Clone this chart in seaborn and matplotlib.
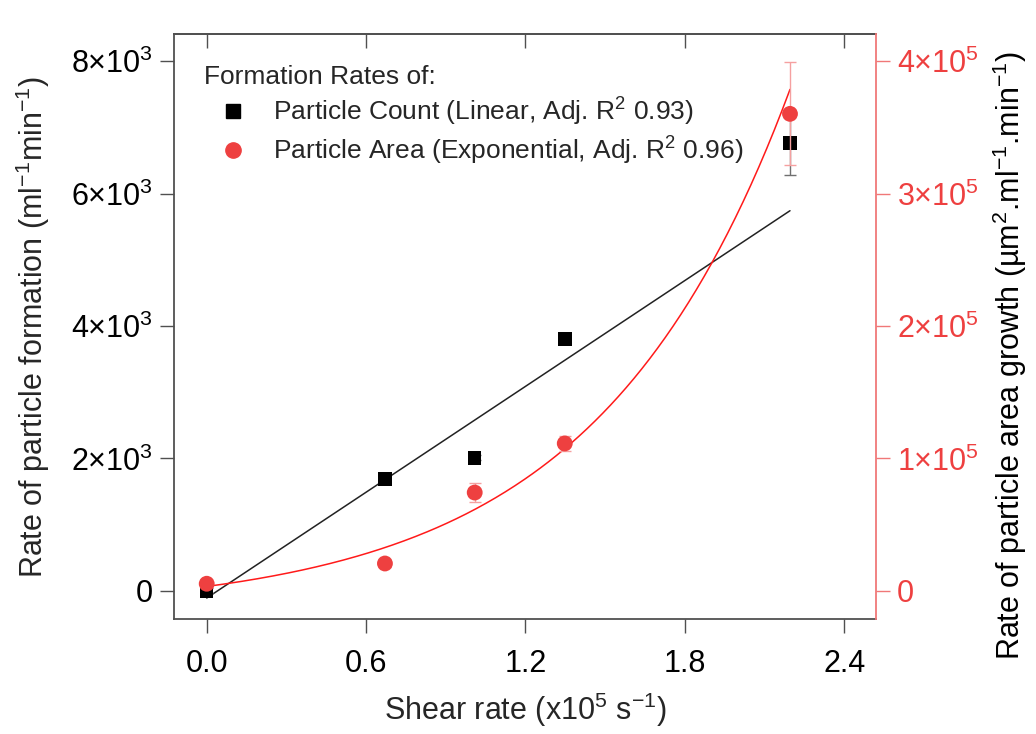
import numpy as np
import pandas as pd
import matplotlib
matplotlib.use("Agg")
import matplotlib.pyplot as plt
from matplotlib.lines import Line2D
import seaborn as sns

# ---------------- data ----------------
shear_rate = [0.0, 0.671, 1.009, 1.348, 2.196]          # x10^5 s^-1
count_rate = [0, 1687, 2009, 3807, 6767]                  # ml^-1 min^-1
count_err = [40, 40, 40, 40, 480]
area_rate = [5300, 20600, 74200, 111300, 360300]          # um^2 ml^-1 min^-1
area_err = [1500, 2500, 7200, 5900, 39000]

# fit parameters (linear and exponential) as drawn in the reference
lin_intercept, lin_slope = -110.0, 2665.0
exp_y0, exp_A, exp_k = -16250.0, 19500.0, 1.37

x_ticks = [0.0, 0.6, 1.2, 1.8, 2.4]
x_labels = ["0.0", "0.6", "1.2", "1.8", "2.4"]
left_ticks = [0, 2000, 4000, 6000, 8000]
left_labels = ["0", "2×10$^{3}$", "4×10$^{3}$", "6×10$^{3}$", "8×10$^{3}$"]
right_ticks = [0, 100000, 200000, 300000, 400000]
right_labels = ["0", "1×10$^{5}$", "2×10$^{5}$", "3×10$^{5}$", "4×10$^{5}$"]

legend_title = "Formation Rates of:"
count_label = "Particle Count (Linear, Adj. R$^{2}$ 0.93)"
area_label = "Particle Area (Exponential, Adj. R$^{2}$ 0.96)"

# ---------------- style ----------------
sns.set_style("ticks")
plt.rcParams["font.family"] = ["Liberation Sans", "DejaVu Sans"]
plt.rcParams["mathtext.fontset"] = "custom"
plt.rcParams["mathtext.rm"] = "Liberation Sans"
plt.rcParams["mathtext.it"] = "Liberation Sans:italic"
plt.rcParams["mathtext.bf"] = "Liberation Sans:bold"
plt.rcParams["mathtext.default"] = "regular"

RED = "#EE4040"
RED_LINE = "#FF1A1A"
RED_ERR = "#F5A0A0"
RED_SPINE = "#F07878"
SPINE = "#505050"

fig = plt.figure(figsize=(10.36, 7.34), dpi=100)
ax = fig.add_axes([0.168, 0.157, 0.6776, 0.796])
ax2 = ax.twinx()

df = pd.DataFrame({"shear": shear_rate, "count": count_rate, "area": area_rate})

# fits
xf = np.linspace(0, max(shear_rate), 300)
fit_df = pd.DataFrame({"x": xf,
                       "lin": lin_intercept + lin_slope * xf,
                       "exp": exp_y0 + exp_A * np.exp(exp_k * xf)})

sns.lineplot(data=fit_df, x="x", y="lin", color="#222222", lw=1.1, ax=ax, zorder=2)
ax.errorbar(shear_rate, count_rate, yerr=count_err, fmt="none", ecolor="#707070",
            elinewidth=1.0, capsize=4, zorder=2)
sns.scatterplot(data=df, x="shear", y="count", marker="s", color="black", s=95,
                edgecolor="none", ax=ax, zorder=3)

sns.lineplot(data=fit_df, x="x", y="exp", color=RED_LINE, lw=1.1, ax=ax2, zorder=2)
ax2.errorbar(shear_rate, area_rate, yerr=area_err, fmt="none", ecolor=RED_ERR,
             elinewidth=1.0, capsize=4, zorder=2)
sns.scatterplot(data=df, x="shear", y="area", marker="o", color=RED, s=130,
                edgecolor="none", ax=ax2, zorder=3)

# limits
ax.set_xlim(-0.123, 2.52)
ax.set_ylim(-423, 8405)
ax2.set_ylim(-423 * 50, 8405 * 50)

# ticks
ax.set_xticks(x_ticks)
ax.set_xticklabels(x_labels)
ax.set_yticks(left_ticks)
ax.set_yticklabels(left_labels)
ax2.set_yticks(right_ticks)
ax2.set_yticklabels(right_labels)

ax.tick_params(axis="both", direction="out", length=10, width=1.0, color=SPINE,
               labelsize=22, labelcolor="black", pad=5)
ax.tick_params(axis="x", pad=12)
ax2.tick_params(axis="y", direction="out", length=10, width=1.0, color=RED_SPINE,
                labelsize=22, labelcolor=RED, pad=5)

top = ax.secondary_xaxis("top")
top.set_xticks(x_ticks)
top.set_xticklabels([])
top.tick_params(direction="in", length=10, width=1.0, color=SPINE)
top.spines["top"].set_color(SPINE)
top.spines["top"].set_linewidth(1.3)

for s in ["left", "bottom", "top"]:
    ax.spines[s].set_visible(True)
    ax.spines[s].set_color(SPINE)
    ax.spines[s].set_linewidth(1.3)
ax.spines["right"].set_visible(False)
for s in ["left", "bottom", "top"]:
    ax2.spines[s].set_visible(False)
ax2.spines["right"].set_visible(True)
ax2.spines["right"].set_color(RED_SPINE)
ax2.spines["right"].set_linewidth(1.3)

ax.set_xlabel("Shear rate (x10$^{5}$ s$^{-1}$)", fontsize=22, labelpad=8)
ax.set_ylabel("Rate of particle formation (ml$^{-1}$min$^{-1}$)", fontsize=22, labelpad=14)
ax2.set_ylabel("Rate of particle area growth (µm$^{2}$.ml$^{-1}$.min$^{-1}$)", fontsize=22,
               color="black")
ax2.yaxis.set_label_coords(1.163, 0.45)

# legend
handles = [Line2D([], [], marker="s", color="black", ls="none", markersize=9.5),
           Line2D([], [], marker="o", color=RED, ls="none", markersize=11)]
leg = ax.legend(handles, [count_label, area_label], title=legend_title,
                loc="upper left", bbox_to_anchor=(0.02, 0.975), frameon=False,
                fontsize=19, title_fontsize=19, handletextpad=0.4, handlelength=2.2,
                labelspacing=0.25, borderaxespad=0.2)
leg._legend_box.align = "left"

fig.savefig("out.png", dpi=100)
